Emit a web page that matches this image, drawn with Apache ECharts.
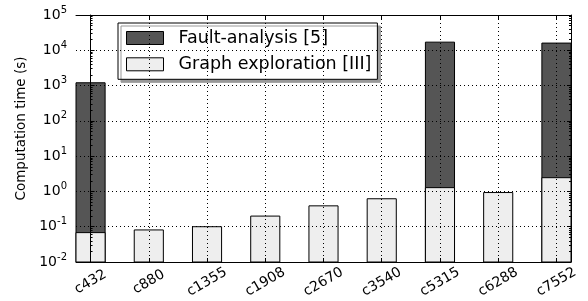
<!DOCTYPE html>
<html>
<head>
<meta charset="utf-8">
<script src="https://cdn.jsdelivr.net/npm/echarts@6/dist/echarts.min.js"></script>
<style>
html, body { margin: 0; padding: 0; background: #fff; }
#main { width: 588px; height: 301px; }
</style>
</head>
<body>
<div id="main"></div>
<script>
// 电路名称
var categories = ['c432', 'c880', 'c1355', 'c1908', 'c2670', 'c3540', 'c5315', 'c6288', 'c7552'];
// Fault-analysis [5] 计算时间 (s)
var faultValues = [1200, null, null, null, null, null, 17000, null, 16000];
// Graph exploration [III] 计算时间 (s)
var graphValues = [0.068, 0.081, 0.1, 0.2, 0.39, 0.62, 1.28, 0.93, 2.45];
// y 轴范围 (log)
var yMin = 0.01, yMax = 100000;

var FONT = 'DejaVu Sans';
var xTicks = categories.map(function(c, i) { return i; });
// 次刻度 2..9 x 10^n
var minorTicks = [];
for (var e = -2; e < 5; e++) {
	for (var m = 2; m < 10; m++) {
		minorTicks.push(m * Math.pow(10, e));
	}
}

function toPairs(arr) {
	var out = [];
	for (var i = 0; i < arr.length; i++) {
		if (arr[i] != null) out.push([i, arr[i]]);
	}
	return out;
}

function barRender(fill) {
	return function(params, api) {
		var x = api.value(0), v = api.value(1);
		var p1 = api.coord([x - 0.25, v]);
		var p2 = api.coord([x + 0.25, yMin]);
		return {
			type: 'rect',
			shape: { x: p1[0], y: p1[1], width: p2[0] - p1[0], height: p2[1] - p1[1] },
			style: { fill: fill, stroke: '#000', lineWidth: 1 }
		};
	};
}

var dotted = { show: true, lineStyle: { color: '#000', width: 1, type: [1, 3] } };

var myChart = echarts.init(document.getElementById('main'));
var option = {
	animation: false,
	grid: { left: 76, right: 17, top: 15, bottom: 39 },
	legend: {
		orient: 'vertical',
		left: 118,
		top: 23,
		padding: [6, 6, 6, 8],
		itemGap: 8.3,
		itemWidth: 37,
		itemHeight: 13,
		backgroundColor: '#fff',
		borderColor: '#000',
		borderWidth: 1,
		shadowColor: '#999',
		shadowOffsetX: 3,
		shadowOffsetY: 3,
		shadowBlur: 0,
		textStyle: { fontFamily: FONT, fontSize: 17.5, color: '#000', lineHeight: 18, padding: [0, 0, 0, 10] },
		data: [
			{ name: 'Fault-analysis [5]', icon: 'rect', itemStyle: { color: '#555555', borderColor: '#000', borderWidth: 1 } },
			{ name: 'Graph exploration [III]', icon: 'rect', itemStyle: { color: '#eeeeee', borderColor: '#000', borderWidth: 1 } }
		]
	},
	xAxis: [{
		type: 'value',
		position: 'bottom',
		min: -0.25,
		max: 8.25,
		z: 5,
		axisLine: { show: true, lineStyle: { color: '#000', width: 1 } },
		axisTick: { show: true, inside: true, length: 4, customValues: xTicks, lineStyle: { color: '#000' } },
		axisLabel: {
			show: true,
			customValues: xTicks,
			rotate: 30,
			align: 'center',
			verticalAlign: 'middle',
			margin: 20,
			fontFamily: FONT,
			fontSize: 14,
			color: '#000',
			formatter: function(v) { return categories[Math.round(v)]; }
		},
		splitLine: dotted
	}, {
		type: 'value',
		position: 'top',
		min: -0.25,
		max: 8.25,
		z: 5,
		axisLine: { show: true, lineStyle: { color: '#000', width: 1 } },
		axisTick: { show: true, inside: true, length: 4, customValues: xTicks, lineStyle: { color: '#000' } },
		axisLabel: { show: false },
		splitLine: { show: false }
	}],
	yAxis: [{
		type: 'log',
		logBase: 10,
		position: 'left',
		min: yMin,
		max: yMax,
		interval: 1,
		z: 5,
		name: 'Computation time (s)',
		nameLocation: 'middle',
		nameGap: 48,
		nameTextStyle: { fontFamily: FONT, fontSize: 13.5, color: '#000', padding: [0, 0, 0, 20] },
		axisLine: { show: true, lineStyle: { color: '#000', width: 1 } },
		axisTick: { show: true, inside: true, length: 4, lineStyle: { color: '#000' } },
		axisLabel: {
			margin: 9,
			fontFamily: FONT,
			fontSize: 14,
			color: '#000',
			formatter: function(v) {
				var p = Math.round(Math.log10(v));
				return '{b|10}{s|' + p + '}';
			},
			rich: {
				b: { fontFamily: FONT, fontSize: 14, color: '#000', lineHeight: 20 },
				s: { fontFamily: FONT, fontSize: 10, color: '#000', lineHeight: 20, verticalAlign: 'top' }
			}
		},
		splitLine: dotted
	}, {
		type: 'log',
		position: 'left',
		min: yMin,
		max: yMax,
		z: 5,
		axisLine: { show: false },
		axisTick: { show: true, inside: true, length: 2, customValues: minorTicks, lineStyle: { color: '#000' } },
		axisLabel: { show: false },
		splitLine: { show: false }
	}, {
		type: 'log',
		position: 'right',
		min: yMin,
		max: yMax,
		interval: 1,
		z: 5,
		axisLine: { show: true, lineStyle: { color: '#000', width: 1 } },
		axisTick: { show: true, inside: true, length: 4, lineStyle: { color: '#000' } },
		axisLabel: { show: false },
		splitLine: { show: false }
	}, {
		type: 'log',
		position: 'right',
		min: yMin,
		max: yMax,
		z: 5,
		axisLine: { show: false },
		axisTick: { show: true, inside: true, length: 2, customValues: minorTicks, lineStyle: { color: '#000' } },
		axisLabel: { show: false },
		splitLine: { show: false }
	}],
	series: [{
		name: 'Fault-analysis [5]',
		type: 'custom',
		xAxisIndex: 0,
		yAxisIndex: 0,
		z: 2,
		itemStyle: { color: '#555555' },
		renderItem: barRender('#555555'),
		encode: { x: 0, y: 1 },
		data: toPairs(faultValues)
	}, {
		name: 'Graph exploration [III]',
		type: 'custom',
		xAxisIndex: 0,
		yAxisIndex: 0,
		z: 3,
		itemStyle: { color: '#eeeeee' },
		renderItem: barRender('#eeeeee'),
		encode: { x: 0, y: 1 },
		data: toPairs(graphValues)
	}]
};
myChart.setOption(option);
</script>
</body>
</html>
